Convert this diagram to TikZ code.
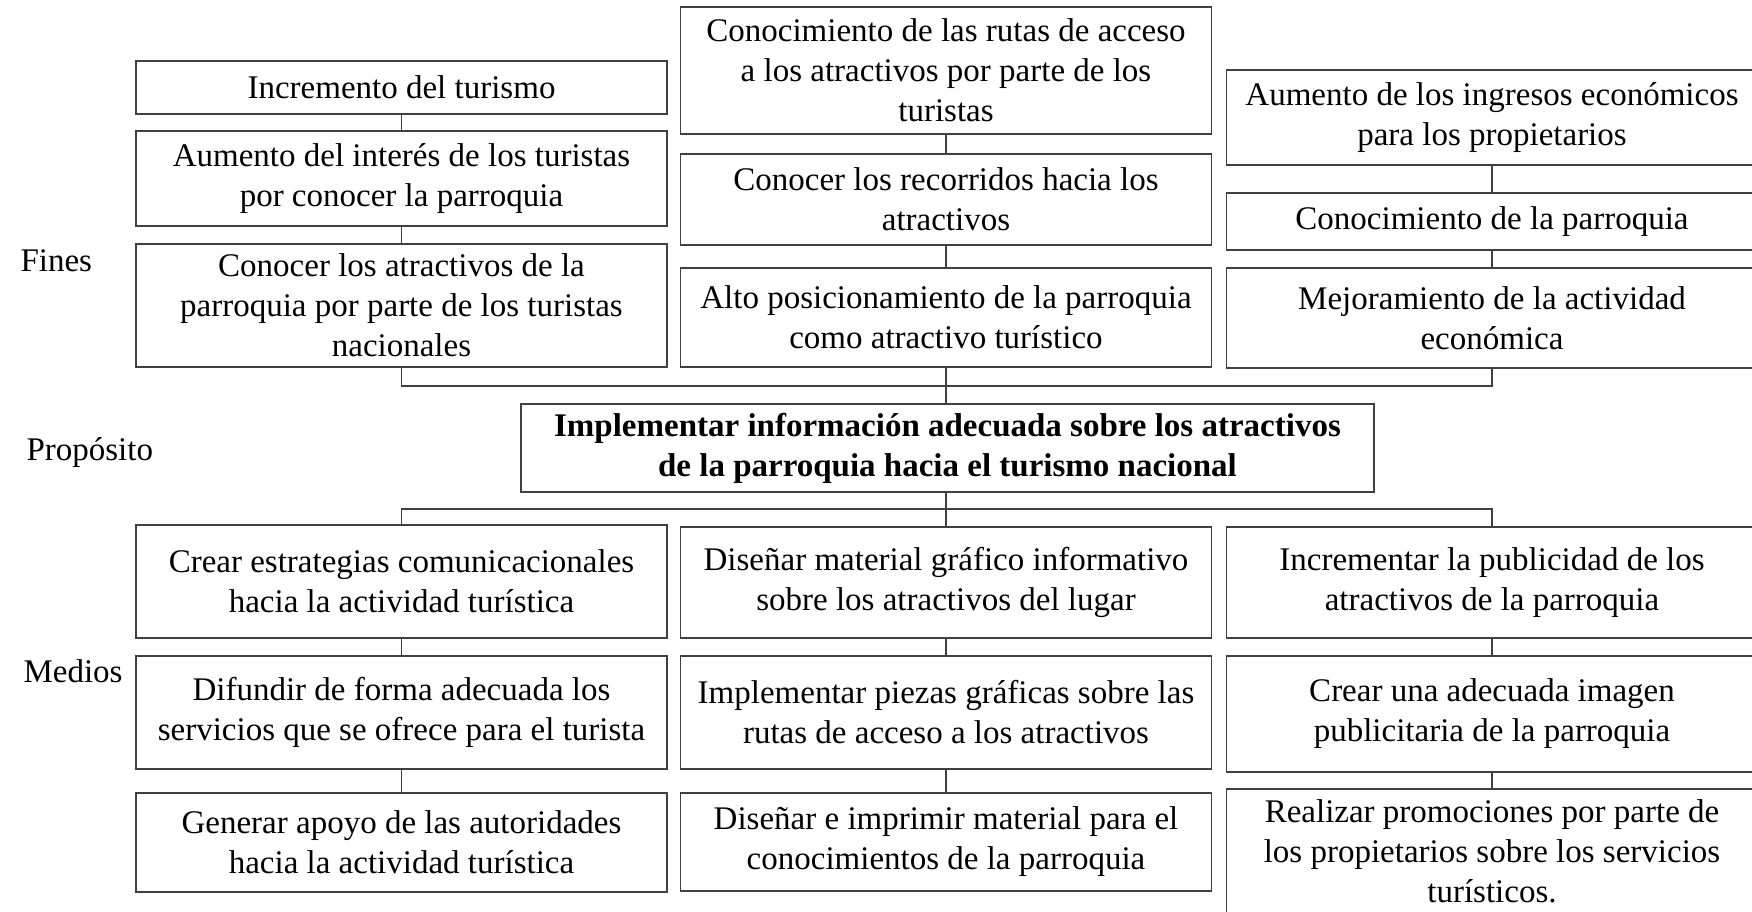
\documentclass[tikz,border=0pt]{standalone}
\usepackage{fontspec}
\setmainfont{Liberation Serif}

\begin{document}
\begin{tikzpicture}[x=1pt, y=-1pt,
    every node/.style={font=\fontsize{33}{40}\selectfont},
    box/.style={draw=black!75, line width=1.3pt, rectangle, align=center, inner sep=0pt, minimum width=531pt},
    link/.style={draw=black!75, line width=1.3pt}]
    \useasboundingbox (0,0) rectangle (1752,912);

    % Side labels
    \node[anchor=west] (lblFines) at (17,261) {Fines};
    \node[anchor=west] (lblProposito) at (23,453) {Propósito};
    \node[anchor=west] (lblMedios) at (20,671) {Medios};

    % Fines
    \node[box, minimum height=53pt] (finL1) at (401.5,87.5) {Incremento del turismo};
    \node[box, minimum height=95pt] (finL2) at (401.5,178.5) {Aumento del interés de los turistas\\por conocer la parroquia};
    \node[box, minimum height=123pt] (finL3) at (401.5,305.5) {Conocer los atractivos de la\\parroquia por parte de los turistas\\nacionales};
    \node[box, minimum height=127pt] (finM1) at (946,70.5) {Conocimiento de las rutas de acceso\\a los atractivos por parte de los\\turistas};
    \node[box, minimum height=91pt] (finM2) at (946,199.5) {Conocer los recorridos hacia los\\atractivos};
    \node[box, minimum height=99pt] (finM3) at (946,317.5) {Alto posicionamiento de la parroquia\\como atractivo turístico};
    \node[box, minimum height=95pt] (finR1) at (1492,117.5) {Aumento de los ingresos económicos\\para los propietarios};
    \node[box, minimum height=57pt] (finR2) at (1492,221.5) {Conocimiento de la parroquia};
    \node[box, minimum height=100pt] (finR3) at (1492,318) {Mejoramiento de la actividad\\económica};

    % Proposito
    \node[box, minimum width=853pt, minimum height=88pt, font=\fontsize{33}{40}\selectfont\bfseries] (proposito) at (947.5,448) {Implementar información adecuada sobre los atractivos\\de la parroquia hacia el turismo nacional};

    % Medios
    \node[box, minimum height=113pt] (medL1) at (401.5,581.5) {Crear estrategias comunicacionales\\hacia la actividad turística};
    \node[box, minimum height=113pt] (medL2) at (401.5,712.5) {Difundir de forma adecuada los\\servicios que se ofrece para el turista};
    \node[box, minimum height=99pt] (medL3) at (401.5,842.5) {Generar apoyo de las autoridades\\hacia la actividad turística};
    \node[box, minimum height=111pt] (medM1) at (946,582.5) {Diseñar material gráfico informativo\\sobre los atractivos del lugar};
    \node[box, minimum height=113pt] (medM2) at (946,712.5) {Implementar piezas gráficas sobre las\\rutas de acceso a los atractivos};
    \node[box, minimum height=98pt] (medM3) at (946,842) {Diseñar e imprimir material para el\\conocimientos de la parroquia};
    \node[box, minimum height=111pt] (medR1) at (1492,582.5) {Incrementar la publicidad de los\\atractivos de la parroquia};
    \node[box, minimum height=116pt] (medR2) at (1492,714) {Crear una adecuada imagen\\publicitaria de la parroquia};
    \node[box, minimum height=125pt] (medR3) at (1492,851.5) {Realizar promociones por parte de\\los propietarios sobre los servicios\\turísticos.};

    % Connectors
    \coordinate (finesBus) at (946,386);
    \coordinate (mediosBus) at (946,509);
    \draw[link] (finL1) -- (finL2) -- (finL3);
    \draw[link] (finM1) -- (finM2) -- (finM3);
    \draw[link] (finR1) -- (finR2) -- (finR3);
    \draw[link] (finL3.south) |- (finesBus) -| (finR3.south);
    \draw[link] (finM3.south) -- (finM3.south |- proposito.north);
    \draw[link] (medM1.north |- proposito.south) -- (medM1.north);
    \draw[link] (medL1.north) |- (mediosBus) -| (medR1.north);
    \draw[link] (medL1) -- (medL2) -- (medL3);
    \draw[link] (medM1) -- (medM2) -- (medM3);
    \draw[link] (medR1) -- (medR2) -- (medR3);
\end{tikzpicture}
\end{document}
